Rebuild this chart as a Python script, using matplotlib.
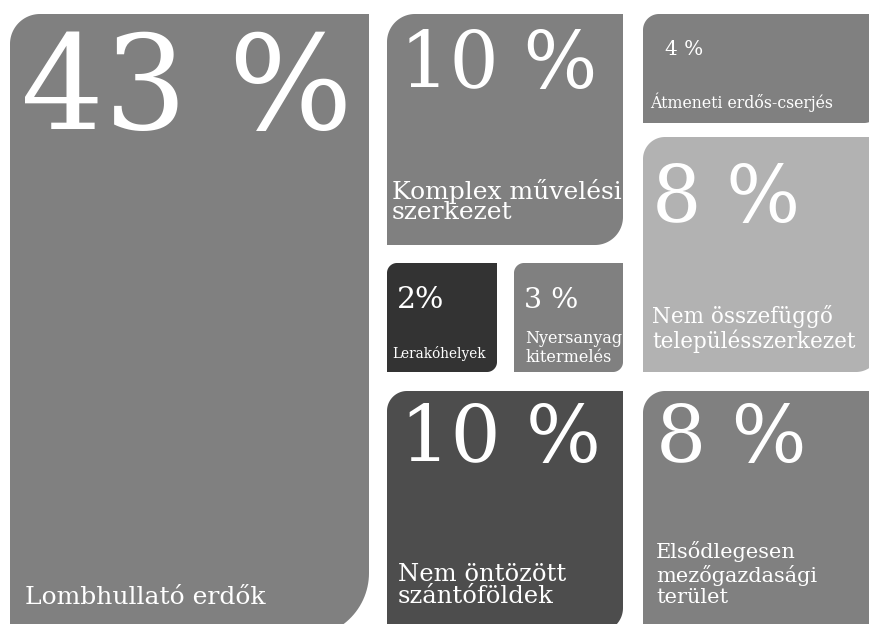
import numpy as np
import matplotlib.pyplot as plt
from matplotlib.patches import Polygon

# --- adatok ---
categories = ["Lombhullató erdők", "Komplex művelési\nszerkezet", "Átmeneti erdős-cserjés",
              "Nem összefüggő\ntelepülésszerkezet", "Lerakóhelyek", "Nyersanyag\nkitermelés",
              "Nem öntözött\nszántóföldek", "Elsődlegesen\nmezőgazdasági\nterület"]
shares = [43, 10, 4, 8, 2, 3, 10, 8]
share_labels = ["43 %", "10 %", "4 %", "8 %", "2%", "3 %", "10 %", "8 %"]
colors = ["#808080", "#808080", "#808080", "#b2b2b2", "#333333", "#808080", "#4d4d4d", "#808080"]

# --- elrendezés (pixel, y lefelé) ---
boxes = [(10, 14, 369, 637), (387, 14, 623, 245), (643, 14, 880, 123), (643, 137, 880, 372),
         (387, 263, 497, 372), (514, 263, 623, 372), (387, 391, 623, 632), (643, 391, 880, 640)]
radius_tl = [30, 28, 16, 22, 10, 10, 20, 22]
radius_br = [64, 28, 16, 24, 10, 10, 24, 24]
# (x, alapvonal, betűméret) -- többsoros címkénél az utolsó sor alapvonala
pct_pos = [(21, 129, 94), (400, 88, 56), (665, 55, 14.5), (652, 222, 56),
           (397, 308, 21.5), (524, 308, 20.5), (400, 462, 57), (656, 462, 57)]
lab_pos = [(25, 604, 18), (392, 219, 18), (650, 108, 11.3), (652, 348, 15.5),
           (392, 358, 9.8), (525, 362, 11.5), (398, 603, 17.5), (656, 603, 15)]
lab_spacing = [1.0, 0.84, 1.0, 1.07, 1.0, 1.19, 0.95, 1.15]

W, H = 869, 624
fig = plt.figure(figsize=(W / 100, H / 100), dpi=100)
ax = fig.add_axes([0, 0, 1, 1])
ax.set_xlim(0, W)
ax.set_ylim(H, 0)
ax.axis("off")


def diag_round_box(x0, y0, x1, y1, r1, r2, n=30):
    # bal felső és jobb alsó sarok lekerekítve
    pts = [(x1, y0), (x1, y1 - r2)]
    t = np.linspace(0, np.pi / 2, n)
    pts += list(zip(x1 - r2 + r2 * np.cos(t), y1 - r2 + r2 * np.sin(t)))
    pts += [(x0, y1), (x0, y0 + r1)]
    t = np.linspace(np.pi, 1.5 * np.pi, n)
    pts += list(zip(x0 + r1 + r1 * np.cos(t), y0 + r1 + r1 * np.sin(t)))
    return np.array(pts)


font = "DejaVu Serif"
for i, (x0, y0, x1, y1) in enumerate(boxes):
    ax.add_patch(Polygon(diag_round_box(x0, y0, x1, y1, radius_tl[i], radius_br[i]),
                         closed=True, facecolor=colors[i], edgecolor="none"))
    px, py, ps = pct_pos[i]
    ax.text(px, py, share_labels[i], fontsize=ps, color="white", family=font,
            ha="left", va="baseline")
    lx, ly, ls = lab_pos[i]
    ax.text(lx, ly, categories[i], fontsize=ls, color="white", family=font,
            ha="left", va="baseline", linespacing=lab_spacing[i])

fig.savefig("out.png", dpi=100)
